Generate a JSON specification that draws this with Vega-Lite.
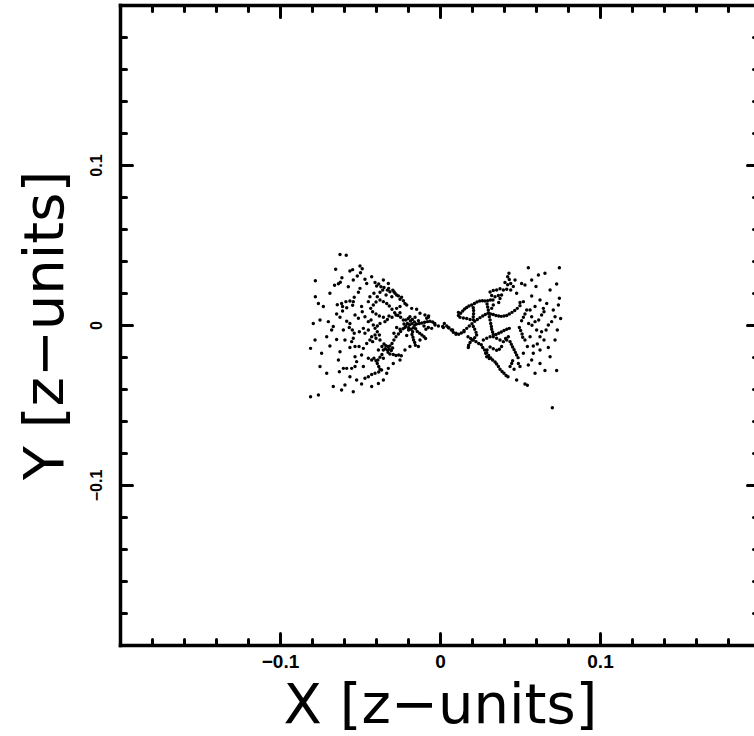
{
  "$schema": "https://vega.github.io/schema/vega-lite/v6.json",
  "autosize": {"type": "none"},
  "padding": {"left": 120, "top": 5, "right": 0, "bottom": 91},
  "width": 634,
  "height": 640,
  "background": "white",
  "config": {
    "view": {"stroke": null},
    "axis": {"grid": false, "domainColor": "black", "domainWidth": 3.5, "domainCap": "square", "tickColor": "black", "tickWidth": 3, "tickCap": "round", "labelColor": "black", "titleColor": "black"}
  },
  "data": {"values": [
{"x":-0.0625,"y":0.044},{"x":-0.0586,"y":0.0436},{"x":-0.0652,"y":0.0348},{"x":-0.0563,"y":0.0337},{"x":-0.0546,"y":0.0346},{"x":-0.05,"y":0.0369},{"x":-0.0486,"y":0.0352},{"x":-0.0497,"y":0.0327},{"x":-0.0517,"y":0.0306},{"x":-0.0779,"y":0.0277},{"x":-0.0613,"y":0.0295},{"x":-0.0623,"y":0.0267},{"x":-0.0659,"y":0.0248},{"x":-0.0635,"y":0.0258},{"x":-0.0469,"y":0.0286},{"x":-0.0779,"y":0.0177},{"x":-0.0406,"y":0.0265},{"x":-0.0396,"y":0.0244},{"x":-0.0369,"y":0.0239},{"x":-0.0358,"y":0.0218},{"x":-0.0329,"y":0.0218},{"x":-0.0313,"y":0.0208},{"x":-0.0295,"y":0.0218},{"x":-0.0281,"y":0.0198},{"x":-0.026,"y":0.0182},{"x":-0.0375,"y":0.0205},{"x":-0.0413,"y":0.0198},{"x":-0.0392,"y":0.0177},{"x":-0.0337,"y":0.0188},{"x":-0.0301,"y":0.0177},{"x":-0.025,"y":0.0161},{"x":-0.0229,"y":0.0152},{"x":-0.05,"y":0.0229},{"x":-0.051,"y":0.0205},{"x":-0.0536,"y":0.0173},{"x":-0.0542,"y":0.0146},{"x":-0.0563,"y":0.015},{"x":-0.0588,"y":0.0146},{"x":-0.0615,"y":0.0135},{"x":-0.0642,"y":0.0127},{"x":-0.0609,"y":0.0115},{"x":-0.0583,"y":0.0108},{"x":-0.049,"y":0.0115},{"x":-0.0486,"y":0.0083},{"x":-0.0546,"y":0.0123},{"x":-0.0146,"y":0.0098},{"x":-0.0609,"y":0.0088},{"x":-0.0646,"y":0.0069},{"x":-0.0698,"y":0.0021},{"x":-0.0625,"y":0.0048},{"x":-0.0583,"y":0.0023},{"x":-0.0563,"y":0.001},{"x":-0.0567,"y":-0.0015},{"x":-0.0548,"y":-0.0031},{"x":-0.0536,"y":-0.0052},{"x":-0.0504,"y":-0.0042},{"x":-0.0479,"y":-0.0021},{"x":-0.0448,"y":0.0021},{"x":-0.0431,"y":0.0031},{"x":-0.0417,"y":0},{"x":-0.0392,"y":-0.0006},{"x":-0.0375,"y":0.001},{"x":-0.0344,"y":0.0021},{"x":-0.0329,"y":0.0035},{"x":-0.0319,"y":0.0056},{"x":-0.03,"y":0.0048},{"x":-0.0275,"y":0.0063},{"x":-0.025,"y":0.0077},{"x":-0.0677,"y":-0.0031},{"x":-0.0646,"y":-0.009},{"x":-0.0688,"y":-0.0131},{"x":-0.0809,"y":-0.0146},{"x":-0.0563,"y":-0.014},{"x":-0.0531,"y":-0.0135},{"x":-0.0506,"y":-0.0135},{"x":-0.0479,"y":-0.0146},{"x":-0.0458,"y":-0.0115},{"x":-0.0438,"y":-0.0094},{"x":-0.0427,"y":-0.0073},{"x":-0.0406,"y":-0.0063},{"x":-0.0469,"y":-0.0052},{"x":-0.0448,"y":-0.0031},{"x":-0.0375,"y":-0.0094},{"x":-0.0531,"y":-0.0198},{"x":-0.0521,"y":-0.0229},{"x":-0.0531,"y":-0.026},{"x":-0.0552,"y":-0.0271},{"x":-0.0583,"y":-0.0271},{"x":-0.0604,"y":-0.0271},{"x":-0.0629,"y":-0.0292},{"x":-0.0448,"y":-0.0208},{"x":-0.0427,"y":-0.0219},{"x":-0.0413,"y":-0.0208},{"x":-0.0406,"y":-0.0302},{"x":-0.0427,"y":-0.031},{"x":-0.0448,"y":-0.0323},{"x":-0.0469,"y":-0.0333},{"x":-0.049,"y":-0.0369},{"x":-0.0594,"y":-0.0375},{"x":-0.0615,"y":-0.0406},{"x":-0.076,"y":-0.0438},{"x":-0.0809,"y":-0.0448},{"x":0.0021,"y":-0.0015},{"x":0.0052,"y":-0.0015},{"x":0.0079,"y":-0.0031},{"x":0.01,"y":-0.0052},{"x":0.0115,"y":0.0079},
{"x":-0.0458,"y":0.026},{"x":-0.0438,"y":0.0177},{"x":-0.0448,"y":0.0146},{"x":-0.0469,"y":0.0052},{"x":-0.051,"y":0.0042},{"x":-0.0531,"y":0.0063},{"x":-0.0667,"y":-0.001},{"x":-0.0604,"y":-0.0031},{"x":-0.0594,"y":-0.0094},{"x":-0.0625,"y":-0.0167},{"x":-0.049,"y":-0.0188},{"x":-0.0479,"y":-0.026},{"x":-0.0563,"y":-0.0323},{"x":-0.0521,"y":-0.0344},{"x":-0.0635,"y":-0.0219},{"x":-0.0708,"y":-0.0073},{"x":-0.075,"y":0.0031},{"x":-0.0729,"y":0.0115},{"x":-0.0688,"y":0.0198},{"x":-0.0573,"y":0.0239},{"x":-0.0542,"y":0.0281},{"x":-0.0427,"y":0.0302},{"x":-0.0354,"y":0.0281},{"x":-0.0323,"y":0.026},{"x":-0.0208,"y":0.0125},{"x":-0.0177,"y":0.0104},{"x":-0.0125,"y":0.0073},{"x":-0.0094,"y":0.0063},{"x":-0.0073,"y":0.0048},{"x":-0.0052,"y":-0.0021},{"x":-0.0031,"y":0},{"x":-0.001,"y":-0.0006},{"x":-0.0125,"y":-0.0094},{"x":-0.0135,"y":-0.0135},{"x":-0.0188,"y":-0.0135},{"x":-0.0219,"y":-0.0156},{"x":-0.025,"y":-0.0219},{"x":-0.0292,"y":-0.024},{"x":-0.0323,"y":-0.0271},{"x":-0.0333,"y":-0.0302},{"x":-0.0354,"y":-0.0344},{"x":-0.0385,"y":-0.0365},{"x":-0.0427,"y":-0.0385},{"x":-0.0542,"y":-0.0417},{"x":-0.0667,"y":-0.0385},{"x":-0.0708,"y":-0.0302},{"x":-0.075,"y":-0.026},{"x":-0.074,"y":-0.0177},{"x":-0.0781,"y":-0.0094},{"x":-0.0792,"y":0.001},{"x":-0.076,"y":0.0135},
{"x":-0.0213,"y":0.0031},{"x":-0.0198,"y":0.004},{"x":-0.0185,"y":0.0025},{"x":-0.0173,"y":0.0035},{"x":-0.016,"y":0.0019},{"x":-0.0204,"y":0.001},{"x":-0.019,"y":0.0002},{"x":-0.0175,"y":0.0008},{"x":-0.0158,"y":-0.0002},{"x":-0.0146,"y":0.0006},{"x":-0.0213,"y":-0.0006},{"x":-0.0196,"y":-0.0017},{"x":-0.0181,"y":-0.0027},{"x":-0.0167,"y":-0.0017},{"x":-0.0152,"y":-0.0023},{"x":-0.0225,"y":0.0006},{"x":-0.0171,"y":-0.0042},{"x":-0.0188,"y":0.0052},{"x":-0.0156,"y":0.0048},{"x":-0.0135,"y":0.0027},
{"x":-0.0129,"y":0.001},{"x":-0.0113,"y":0.0013},{"x":-0.0096,"y":0.0017},{"x":-0.0079,"y":0.0021},{"x":-0.0063,"y":0.0023},{"x":-0.0046,"y":0.0019},{"x":-0.0033,"y":0.001},{"x":-0.0083,"y":0.0042},{"x":-0.0071,"y":0.0056},{"x":-0.01,"y":-0.0006},{"x":-0.0088,"y":-0.0027},{"x":-0.0073,"y":-0.0015},
{"x":-0.0142,"y":-0.004},{"x":-0.0127,"y":-0.0052},{"x":-0.0113,"y":-0.0063},{"x":-0.01,"y":-0.0073},{"x":-0.009,"y":-0.0085},
{"x":-0.0175,"y":-0.006},{"x":-0.0169,"y":-0.0077},{"x":-0.0165,"y":-0.0094},{"x":-0.0158,"y":-0.011},{"x":-0.0154,"y":-0.0127},
{"x":-0.0229,"y":0.0031},{"x":-0.0246,"y":0.0048},{"x":-0.0263,"y":0.006},{"x":-0.0283,"y":0.0077},{"x":-0.03,"y":0.0098},{"x":-0.0317,"y":0.0119},{"x":-0.0333,"y":0.0135},{"x":-0.0354,"y":0.0146},{"x":-0.0375,"y":0.0156},{"x":-0.04,"y":0.0144},{"x":-0.0417,"y":0.0125},{"x":-0.0433,"y":0.0104},{"x":-0.0421,"y":0.0083},{"x":-0.04,"y":0.0069},{"x":-0.0379,"y":0.0056},{"x":-0.0354,"y":0.0048},
{"x":-0.0383,"y":0.0256},{"x":-0.035,"y":0.0235},{"x":-0.0321,"y":0.0229},{"x":-0.0288,"y":0.0208},{"x":-0.0271,"y":0.0188},{"x":-0.024,"y":0.0173},{"x":-0.0219,"y":0.0135},{"x":-0.025,"y":0.0115},{"x":-0.0271,"y":0.0104},
{"x":-0.035,"y":-0.0119},{"x":-0.0338,"y":-0.0129},{"x":-0.0325,"y":-0.0135},{"x":-0.0313,"y":-0.0131},{"x":-0.0342,"y":-0.0148},{"x":-0.0329,"y":-0.0156},{"x":-0.0317,"y":-0.0152},{"x":-0.0304,"y":-0.016},{"x":-0.0325,"y":-0.0171},{"x":-0.0313,"y":-0.0181},{"x":-0.0354,"y":-0.0156},{"x":-0.0296,"y":-0.0144},{"x":-0.0363,"y":-0.0135},
{"x":-0.03,"y":-0.0115},{"x":-0.0288,"y":-0.0094},{"x":-0.0275,"y":-0.0073},{"x":-0.026,"y":-0.0056},{"x":-0.0246,"y":-0.004},{"x":-0.0231,"y":-0.0023},{"x":-0.0219,"y":-0.0015},
{"x":-0.0292,"y":-0.0185},{"x":-0.0275,"y":-0.019},{"x":-0.0258,"y":-0.0188},{"x":-0.0242,"y":-0.0192},
{"x":-0.0363,"y":-0.0185},{"x":-0.0375,"y":-0.0202},{"x":-0.0388,"y":-0.0219},{"x":-0.0392,"y":-0.024},{"x":-0.0383,"y":-0.026},{"x":-0.0375,"y":-0.0277},{"x":-0.04,"y":-0.0223},
{"x":-0.0406,"y":-0.0021},{"x":-0.0392,"y":-0.0042},{"x":-0.0379,"y":-0.0063},{"x":-0.04,"y":-0.0083},{"x":-0.0421,"y":-0.0104},{"x":-0.0552,"y":-0.0104},{"x":-0.0542,"y":-0.0083},
{"x":-0.0271,"y":-0.0015},{"x":-0.0288,"y":-0.0052},{"x":-0.0208,"y":-0.0065},{"x":-0.0196,"y":-0.0031},{"x":-0.025,"y":-0.0027},{"x":-0.0385,"y":-0.0156},{"x":-0.0354,"y":-0.0208},{"x":-0.0365,"y":-0.0281},{"x":-0.0383,"y":-0.0294},
{"x":0.0552,"y":0.0358},{"x":0.0746,"y":0.0358},{"x":0.0656,"y":0.0323},{"x":0.0729,"y":0.0256},{"x":0.06,"y":0.024},{"x":0.0573,"y":0.0181},{"x":0.0746,"y":0.0167},{"x":0.074,"y":0.0125},{"x":0.0719,"y":0.0052},{"x":0.0754,"y":0.004},{"x":0.0698,"y":0.0021},{"x":0.0677,"y":0},{"x":0.0663,"y":-0.0031},{"x":0.0635,"y":-0.0042},{"x":0.0625,"y":-0.0073},{"x":0.065,"y":-0.0094},{"x":0.0608,"y":-0.0119},{"x":0.0583,"y":-0.0131},{"x":0.0677,"y":-0.014},{"x":0.0625,"y":-0.0156},{"x":0.0583,"y":-0.0177},{"x":0.0656,"y":-0.0285},{"x":0.0729,"y":-0.0285},{"x":0.0531,"y":-0.0369},{"x":0.0546,"y":-0.0377},{"x":0.0702,"y":-0.0517},{"x":0.0646,"y":0.0104},{"x":0.065,"y":0.0083},{"x":0.0635,"y":0.0063},{"x":0.0617,"y":0.0031},{"x":0.0594,"y":0.0021},{"x":0.0575,"y":-0.0002},{"x":0.0554,"y":0.001},{"x":0.0542,"y":0.0094},{"x":0.0563,"y":0.0094},{"x":0.0531,"y":0.0069},{"x":0.0521,"y":0.0048},{"x":0.051,"y":0.0027},{"x":0.05,"y":0.014},{"x":0.0521,"y":0.0146},{"x":0.051,"y":0.026},{"x":0.0531,"y":0.025},{"x":0.0431,"y":0.0323},{"x":0.0423,"y":0.0302},{"x":0.0463,"y":-0.0277},{"x":0.05,"y":-0.026},{"x":0.0552,"y":-0.025},{"x":0.049,"y":-0.024},{"x":0.0688,"y":0.0219},{"x":0.0625,"y":0.0156},{"x":0.0667,"y":0.0135},{"x":0.0708,"y":0.0094},{"x":0.0594,"y":0.0115},{"x":0.0573,"y":0.0052},{"x":0.0604,"y":-0.0031},{"x":0.0563,"y":-0.0073},{"x":0.0531,"y":-0.0094},{"x":0.0546,"y":-0.0135},{"x":0.0521,"y":-0.0177},{"x":0.0573,"y":-0.0219},{"x":0.0625,"y":-0.024},{"x":0.0594,"y":-0.0302},{"x":0.0479,"y":-0.0344},{"x":0.0688,"y":-0.0198},{"x":0.0719,"y":-0.0094},{"x":0.0733,"y":-0.0031},{"x":0.0479,"y":0.0198},{"x":0.0469,"y":0.0281},{"x":0.0573,"y":0.0281},{"x":0.0615,"y":0.0313},
{"x":0.0406,"y":0.0265},{"x":0.0423,"y":0.0252},{"x":0.0442,"y":0.026},{"x":0.0458,"y":0.024},{"x":0.0442,"y":0.0219},{"x":0.0417,"y":0.0223},{"x":0.0396,"y":0.0219},{"x":0.0375,"y":0.0227},{"x":0.0354,"y":0.0219},{"x":0.0333,"y":0.0215},{"x":0.0313,"y":0.0206},{"x":0.0323,"y":0.0185},{"x":0.0344,"y":0.0177},{"x":0.0365,"y":0.0185},{"x":0.0385,"y":0.0188},{"x":0.0375,"y":0.0165},{"x":0.0367,"y":0.014},{"x":0.0433,"y":0.0285},
{"x":0.0017,"y":-0.001},{"x":0.0027,"y":0.001},{"x":0.0042,"y":-0.0006},{"x":0.0056,"y":-0.0019},{"x":0.0071,"y":-0.0031},{"x":0.0083,"y":-0.0046},{"x":0.01,"y":-0.0058},{"x":0.0117,"y":-0.0058},{"x":0.0133,"y":-0.005},{"x":0.015,"y":-0.0042},
{"x":0.015,"y":-0.0035},{"x":0.0167,"y":-0.0021},{"x":0.0183,"y":-0.0006},{"x":0.02,"y":0.0008},{"x":0.0217,"y":0.0023},{"x":0.0233,"y":0.0035},{"x":0.025,"y":0.0046},{"x":0.0267,"y":0.0056},{"x":0.0283,"y":0.0065},{"x":0.03,"y":0.0073},
{"x":0.0198,"y":0.0125},{"x":0.0215,"y":0.0135},{"x":0.0231,"y":0.0144},{"x":0.0248,"y":0.015},{"x":0.0265,"y":0.0152},{"x":0.0281,"y":0.015},{"x":0.0298,"y":0.0152},{"x":0.0315,"y":0.0156},{"x":0.0331,"y":0.0156},
{"x":0.0115,"y":0.006},{"x":0.0129,"y":0.0073},{"x":0.0142,"y":0.0088},{"x":0.0154,"y":0.01},{"x":0.0167,"y":0.011},{"x":0.0181,"y":0.0119},
{"x":0.0208,"y":0.0108},{"x":0.021,"y":0.009},{"x":0.021,"y":0.0071},{"x":0.0208,"y":0.0052},{"x":0.0208,"y":0.0033},
{"x":0.0294,"y":0.0131},{"x":0.0298,"y":0.0113},{"x":0.0302,"y":0.0094},{"x":0.0304,"y":0.0075},{"x":0.0308,"y":0.0052},{"x":0.0313,"y":0.0031},{"x":0.0317,"y":0.001},{"x":0.0321,"y":-0.001},
{"x":0.0125,"y":0.0048},{"x":0.0146,"y":0.0044},{"x":0.0167,"y":0.004},{"x":0.0188,"y":0.0035},
{"x":0.0175,"y":-0.0073},{"x":0.0192,"y":-0.0085},{"x":0.0208,"y":-0.0094},{"x":0.0225,"y":-0.0104},{"x":0.0242,"y":-0.0115},{"x":0.0258,"y":-0.0123},{"x":0.0271,"y":-0.0094},{"x":0.0292,"y":-0.0083},{"x":0.0313,"y":-0.0073},{"x":0.0333,"y":-0.0073},{"x":0.0354,"y":-0.0083},{"x":0.0375,"y":-0.0094},{"x":0.0396,"y":-0.0104},{"x":0.0417,"y":-0.0094},{"x":0.0438,"y":-0.0104},
{"x":0.0208,"y":-0.001},{"x":0.0217,"y":-0.0027},{"x":0.0225,"y":-0.0046},{"x":0.0229,"y":-0.0063},{"x":0.0217,"y":-0.0079},{"x":0.02,"y":-0.0094},{"x":0.0188,"y":-0.011},{"x":0.0179,"y":-0.0127},{"x":0.0177,"y":-0.014},
{"x":0.0323,"y":-0.0027},{"x":0.0329,"y":-0.0044},{"x":0.0333,"y":-0.006},
{"x":0.035,"y":-0.006},{"x":0.0367,"y":-0.0052},{"x":0.0383,"y":-0.0044},{"x":0.04,"y":-0.0035},{"x":0.0417,"y":-0.0027},{"x":0.0433,"y":-0.0021},
{"x":0.0317,"y":0.0069},{"x":0.0333,"y":0.0065},{"x":0.035,"y":0.006},{"x":0.0367,"y":0.0056},{"x":0.0383,"y":0.0054},{"x":0.04,"y":0.0056},{"x":0.0417,"y":0.006},{"x":0.0433,"y":0.0069},{"x":0.045,"y":0.0079},{"x":0.0467,"y":0.009},{"x":0.0483,"y":0.0104},{"x":0.05,"y":0.0121},
{"x":0.0267,"y":-0.014},{"x":0.0279,"y":-0.0156},{"x":0.0292,"y":-0.0173},{"x":0.0304,"y":-0.019},{"x":0.0317,"y":-0.0206},{"x":0.0329,"y":-0.0219},{"x":0.0344,"y":-0.0231},{"x":0.0354,"y":-0.0244},{"x":0.0365,"y":-0.026},{"x":0.0375,"y":-0.0277},{"x":0.0388,"y":-0.029},{"x":0.04,"y":-0.0302},{"x":0.0413,"y":-0.0315},{"x":0.0425,"y":-0.0323},
{"x":0.0446,"y":-0.0121},{"x":0.0454,"y":-0.0138},{"x":0.0463,"y":-0.0154},{"x":0.0471,"y":-0.0171},{"x":0.0479,"y":-0.0188},{"x":0.0488,"y":-0.0204},
{"x":0.0385,"y":-0.0135},{"x":0.0371,"y":-0.0152},{"x":0.0354,"y":-0.0158},{"x":0.0333,"y":-0.0148},{"x":0.0313,"y":-0.0138},{"x":0.0294,"y":-0.0156},{"x":0.0285,"y":-0.0177},{"x":0.0292,"y":-0.0198},{"x":0.0308,"y":-0.021},
{"x":0.0427,"y":-0.0073},{"x":0.041,"y":-0.0085},
{"x":0.0496,"y":-0.0015},{"x":0.0504,"y":-0.0035},{"x":0.0513,"y":-0.0056},{"x":0.0517,"y":-0.0077},
{"x":0.0438,"y":-0.026},{"x":0.0448,"y":-0.024},{"x":0.0454,"y":-0.0223},
{"x":0.0333,"y":0.0125},{"x":0.0323,"y":0.0104}
  ]},
  "resolve": {"axis": {"x": "independent", "y": "independent"}},
  "layer": [
    {
      "mark": {"type": "point", "shape": "circle", "filled": true, "size": 12, "color": "black", "opacity": 1, "strokeWidth": 0},
      "encoding": {
        "x": {"field": "x", "type": "quantitative", "scale": {"domain": [-0.2, 0.19625], "nice": false, "zero": false},
          "axis": {"orient": "bottom", "values": [-0.2,-0.18,-0.16,-0.14,-0.12,-0.1,-0.08,-0.06,-0.04,-0.02,0,0.02,0.04,0.06,0.08,0.1,0.12,0.14,0.16,0.18],
            "tickSize": {"condition": {"test": "abs(datum.value*10 - round(datum.value*10)) < 0.001", "value": -12}, "value": -6},
            "labelExpr": "abs(datum.value + 0.1) < 0.001 ? '−0.1' : abs(datum.value) < 0.001 ? '0' : abs(datum.value - 0.1) < 0.001 ? '0.1' : ''",
            "labelFont": "Liberation Sans", "labelFontWeight": "bold", "labelFontSize": 19, "labelPadding": 19, "labelFlush": false, "labelOverlap": false, "labelBaseline": "top",
            "title": "X [z−units]", "titleFont": "DejaVu Sans", "titleFontSize": 56, "titleFontWeight": "normal", "titleBaseline": "alphabetic", "titleAlign": "center", "titleX": 320, "titleY": 77}},
        "y": {"field": "y", "type": "quantitative", "scale": {"domain": [-0.2, 0.2], "nice": false, "zero": false},
          "axis": {"orient": "left", "values": [-0.2,-0.18,-0.16,-0.14,-0.12,-0.1,-0.08,-0.06,-0.04,-0.02,0,0.02,0.04,0.06,0.08,0.1,0.12,0.14,0.16,0.18,0.2],
            "tickSize": {"condition": {"test": "abs(datum.value*10 - round(datum.value*10)) < 0.001", "value": -12}, "value": -6},
            "labelExpr": "abs(datum.value + 0.1) < 0.001 ? '−0.1' : abs(datum.value) < 0.001 ? '0' : abs(datum.value - 0.1) < 0.001 ? '0.1' : ''",
            "labelFont": "Liberation Sans", "labelFontWeight": "bold", "labelFontSize": 16, "labelPadding": 28, "labelAngle": 270, "labelAlign": "center", "labelBaseline": "bottom", "labelFlush": false, "labelOverlap": false,
            "title": "Y [z−units]", "titleFont": "DejaVu Sans", "titleFontSize": 56, "titleFontWeight": "normal", "titleAngle": 270, "titleBaseline": "alphabetic", "titleAlign": "center", "titleX": -58, "titleY": 320}}
      }
    },
    {
      "mark": {"type": "point", "opacity": 0},
      "encoding": {
        "x": {"field": "x", "type": "quantitative",
          "axis": {"orient": "top", "values": [-0.2,-0.18,-0.16,-0.14,-0.12,-0.1,-0.08,-0.06,-0.04,-0.02,0,0.02,0.04,0.06,0.08,0.1,0.12,0.14,0.16,0.18],
            "tickSize": {"condition": {"test": "abs(datum.value*10 - round(datum.value*10)) < 0.001", "value": -12}, "value": -6},
            "labels": false, "title": null}},
        "y": {"field": "y", "type": "quantitative",
          "axis": {"orient": "right", "offset": 6, "values": [-0.2,-0.18,-0.16,-0.14,-0.12,-0.1,-0.08,-0.06,-0.04,-0.02,0,0.02,0.04,0.06,0.08,0.1,0.12,0.14,0.16,0.18,0.2],
            "tickSize": {"condition": {"test": "abs(datum.value*10 - round(datum.value*10)) < 0.001", "value": -13}, "value": -7},
            "labels": false, "title": null}}
      }
    }
  ]
}
